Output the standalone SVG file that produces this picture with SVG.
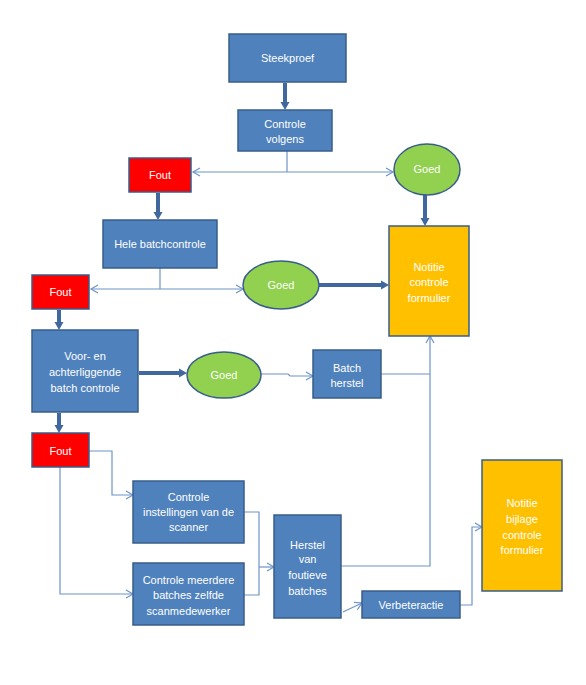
<svg xmlns="http://www.w3.org/2000/svg" width="586" height="685" viewBox="0 0 586 685">
<style>
.box{fill:#4F81BD;stroke:#385D8A;stroke-width:1.5}
.red{fill:#FF0000;stroke:#385D8A;stroke-width:1.5}
.green{fill:#92D050;stroke:#385D8A;stroke-width:1.5}
.orange{fill:#FFC000;stroke:#385D8A;stroke-width:1.5}
text{font-family:"Liberation Sans",Arial,sans-serif;font-size:11px;fill:#FFFFFF;text-anchor:middle}
.thin{fill:none;stroke:#6E93C8;stroke-width:1.2}
.thick{fill:none;stroke:#41689E;stroke-width:4}
</style>
<defs>
<marker id="open" markerWidth="10" markerHeight="10" refX="8" refY="5" orient="auto" markerUnits="userSpaceOnUse">
<path d="M1,1 L8,5 L1,9" fill="none" stroke="#6E93C8" stroke-width="1.2"/>
</marker>
<marker id="solid" markerWidth="11" markerHeight="11" refX="2" refY="5" orient="auto" markerUnits="userSpaceOnUse">
<path d="M0,0.5 L8,5 L0,9.5 Z" fill="#41689E"/>
</marker>
</defs>
<rect width="586" height="685" fill="#FFFFFF"/>

<g id="connectors">
<line class="thick" x1="285" y1="83" x2="285" y2="104" marker-end="url(#solid)"/>
<path class="thin" d="M287,151 V172"/>
<path class="thin" d="M287,172 H193" marker-end="url(#open)"/>
<path class="thin" d="M287,172 H393" marker-end="url(#open)"/>
<line class="thick" x1="158" y1="193" x2="158" y2="214" marker-end="url(#solid)"/>
<line class="thick" x1="425" y1="195" x2="425" y2="220" marker-end="url(#solid)"/>
<path class="thin" d="M160,268 V289"/>
<path class="thin" d="M160,289 H91" marker-end="url(#open)"/>
<path class="thin" d="M160,289 H243" marker-end="url(#open)"/>
<line class="thick" x1="319" y1="285" x2="383" y2="285" marker-end="url(#solid)"/>
<line class="thick" x1="59" y1="310" x2="59" y2="324" marker-end="url(#solid)"/>
<line class="thick" x1="139" y1="373" x2="181" y2="373" marker-end="url(#solid)"/>
<path class="thin" d="M261,374 H288 L290,376 H313" marker-end="url(#open)"/>
<path class="thin" d="M381,374 H430"/>
<path class="thin" d="M341,566 H430 V336" marker-end="url(#open)"/>
<line class="thick" x1="59" y1="413" x2="59" y2="427" marker-end="url(#solid)"/>
<path class="thin" d="M89,451 H112 V495 H133" marker-end="url(#open)"/>
<path class="thin" d="M60,467 V594 H133" marker-end="url(#open)"/>
<path class="thin" d="M244,512 H259 V595 H244"/>
<path class="thin" d="M259,567 H274" marker-end="url(#open)"/>
<path class="thin" d="M343,612 L362,603" marker-end="url(#open)"/>
<path class="thin" d="M460,605 H472 V527 H482" marker-end="url(#open)"/>
</g>

<g id="steekproef"><rect class="box" x="229" y="34" width="117" height="48"/><text x="287.5" y="62">Steekproef</text></g>
<g id="controle-volgens"><rect class="box" x="238" y="110" width="94" height="41"/><text x="285" y="128">Controle</text><text x="285" y="143">volgens</text></g>
<g id="fout1"><rect class="red" x="129" y="158" width="62" height="34"/><text x="160" y="179">Fout</text></g>
<g id="goed1"><ellipse class="green" cx="427" cy="169.5" rx="33" ry="25.5"/><text x="427" y="173">Goed</text></g>
<g id="hele-batchcontrole"><rect class="box" x="103" y="220" width="114" height="48"/><text x="160" y="248">Hele batchcontrole</text></g>
<g id="fout2"><rect class="red" x="32" y="275" width="57" height="34"/><text x="60.5" y="296">Fout</text></g>
<g id="goed2"><ellipse class="green" cx="281" cy="285" rx="38" ry="24"/><text x="281" y="289">Goed</text></g>
<g id="notitie-controle"><rect class="orange" x="389" y="226" width="80" height="110"/><text x="429" y="271">Notitie</text><text x="429" y="286">controle</text><text x="429" y="302">formulier</text></g>
<g id="voor-en-achter"><rect class="box" x="32" y="330" width="106" height="82"/><text x="85" y="360">Voor- en</text><text x="85" y="376">achterliggende</text><text x="85" y="392">batch controle</text></g>
<g id="goed3"><ellipse class="green" cx="224" cy="375" rx="37" ry="23"/><text x="224" y="379">Goed</text></g>
<g id="batch-herstel"><rect class="box" x="313" y="350" width="68" height="48"/><text x="347" y="372">Batch</text><text x="347" y="387">herstel</text></g>
<g id="fout3"><rect class="red" x="32" y="433" width="57" height="34"/><text x="60.5" y="455">Fout</text></g>
<g id="controle-instellingen"><rect class="box" x="133" y="481" width="111" height="62"/><text x="188.5" y="501">Controle</text><text x="188.5" y="516">instellingen van de</text><text x="188.5" y="531">scanner</text></g>
<g id="controle-meerdere"><rect class="box" x="133" y="563" width="111" height="62"/><text x="188.5" y="584">Controle meerdere</text><text x="188.5" y="599">batches zelfde</text><text x="188.5" y="615">scanmedewerker</text></g>
<g id="herstel-foutieve"><rect class="box" x="274" y="515" width="67" height="103"/><text x="307.5" y="549">Herstel</text><text x="307.5" y="563">van</text><text x="307.5" y="579">foutieve</text><text x="307.5" y="595">batches</text></g>
<g id="verbeteractie"><rect class="box" x="362" y="591" width="98" height="27"/><text x="411" y="609">Verbeteractie</text></g>
<g id="notitie-bijlage"><rect class="orange" x="482" y="460" width="80" height="131"/><text x="522" y="507">Notitie</text><text x="522" y="523">bijlage</text><text x="522" y="539">controle</text><text x="522" y="554">formulier</text></g>
</svg>
